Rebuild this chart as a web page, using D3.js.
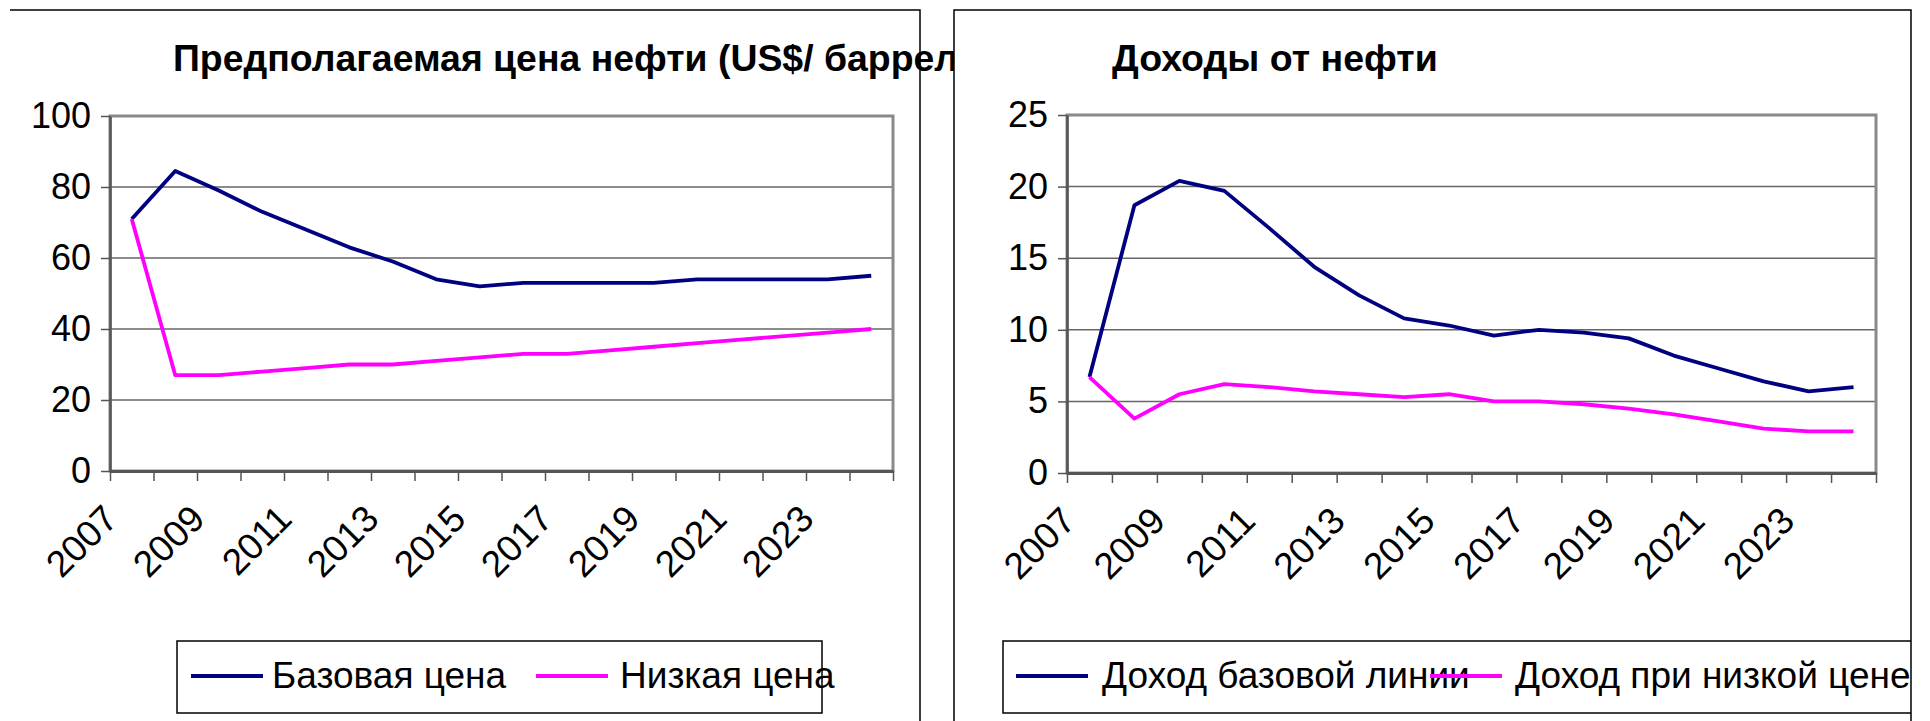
<!DOCTYPE html>
<html>
<head>
<meta charset="utf-8">
<script src="https://cdn.jsdelivr.net/npm/d3@7"></script>
<style>
  body { margin: 0; background: #fff; }
  svg { display: block; font-family: "Liberation Sans", Arial, sans-serif; }
</style>
</head>
<body>
<div id="chart"></div>
<script>
// ------------ data
var years = ["2007", "2008", "2009", "2010", "2011", "2012", "2013", "2014", "2015",
             "2016", "2017", "2018", "2019", "2020", "2021", "2022", "2023", "2024"];

var basePrice = [71, 84.5, 79, 73, 68, 63, 59, 54, 52, 53, 53, 53, 53, 54, 54, 54, 54, 55];
var lowPrice = [71, 27, 27, 28, 29, 30, 30, 31, 32, 33, 33, 34, 35, 36, 37, 38, 39, 40];

var baseIncome = [6.7, 18.7, 20.4, 19.7, 17.1, 14.4, 12.4, 10.8, 10.3, 9.6, 10.0, 9.8, 9.4, 8.2, 7.3, 6.4, 5.7, 6.0];
var lowIncome = [6.7, 3.8, 5.5, 6.2, 6.0, 5.7, 5.5, 5.3, 5.5, 5.0, 5.0, 4.8, 4.5, 4.1, 3.6, 3.1, 2.9, 2.9];

var priceTicks = [0, 20, 40, 60, 80, 100];
var incomeTicks = [0, 5, 10, 15, 20, 25];

var priceNames = ["Базовая цена", "Низкая цена"];
var incomeNames = ["Доход базовой линии", "Доход при низкой цене"];

var navy = "#000080";
var magenta = "#ff00ff";

var svgWidth = 1930;
var svgHeight = 721;

var svg = d3.select("#chart")
  .append("svg")
  .attr("width", svgWidth)
  .attr("height", svgHeight);

svg.append("rect").attr("width", svgWidth).attr("height", svgHeight).attr("fill", "#fff");

// clip for right panel (text runs past its edge)
svg.append("clipPath").attr("id", "rightClip")
  .append("rect").attr("x", 954).attr("y", 0).attr("width", 1911 - 954).attr("height", svgHeight);

// ------------ draws one chart panel
function drawChart(g, cfg) {
  var x = d3.scaleBand().domain(years).range([cfg.left, cfg.right]).padding(0);
  var xEdge = d3.scaleLinear().domain([0, years.length]).range([cfg.left, cfg.right]);
  var y = d3.scaleLinear().domain([0, cfg.ticks[cfg.ticks.length - 1]]).range([cfg.bottom, cfg.top]);

  // title
  g.append("text")
    .attr("x", cfg.titleX)
    .attr("y", 71)
    .style("font-size", cfg.titleSize)
    .style("font-weight", "bold")
    .text(cfg.title);

  // grid lines
  g.append("g").selectAll("line")
    .data(cfg.ticks.slice(1))
    .enter()
    .append("line")
    .attr("x1", cfg.left).attr("x2", cfg.right)
    .attr("y1", d => y(d)).attr("y2", d => y(d))
    .attr("stroke", "#666")
    .attr("stroke-width", 1.5);

  // plot border (gray)
  g.append("rect")
    .attr("x", cfg.left).attr("y", cfg.top)
    .attr("width", cfg.right - cfg.left).attr("height", cfg.bottom - cfg.top)
    .attr("fill", "none")
    .attr("stroke", "#8a8a8a")
    .attr("stroke-width", 3);

  // y axis
  var yAxis = g.append("g")
    .attr("transform", `translate(${cfg.left},0)`)
    .call(d3.axisLeft(y).tickValues(cfg.ticks).tickSize(9).tickPadding(10).tickSizeOuter(0));
  yAxis.select(".domain").attr("stroke", "#555").attr("stroke-width", 2.5);
  yAxis.selectAll(".tick line").attr("stroke", "#555").attr("stroke-width", 1.5);
  yAxis.selectAll(".tick text")
    .style("font-size", "36px")
    .style("font-family", "Liberation Sans, Arial, sans-serif")
    .attr("fill", "#000");

  // x axis: ticks at category edges
  var xAxis = g.append("g")
    .attr("transform", `translate(0,${cfg.bottom})`)
    .call(d3.axisBottom(xEdge).tickValues(d3.range(years.length + 1)).tickSize(10).tickFormat("").tickSizeOuter(0));
  xAxis.select(".domain").attr("stroke", "#555").attr("stroke-width", 3);
  xAxis.selectAll(".tick line").attr("stroke", "#555").attr("stroke-width", 1.5);

  // rotated year labels, every other year
  g.append("g").selectAll("text")
    .data(years.filter((d, i) => i % 2 == 0))
    .enter()
    .append("text")
    .attr("transform", d => `translate(${x(d) + x.bandwidth() / 2 - 12},${cfg.bottom + 50}) rotate(-45)`)
    .attr("text-anchor", "end")
    .style("font-size", "37px")
    .text(d => d);

  // lines
  var line = d3.line()
    .x((d, i) => x(years[i]) + x.bandwidth() / 2)
    .y(d => y(d));

  cfg.series.forEach(function(s) {
    g.append("path")
      .datum(s.values)
      .attr("d", line)
      .attr("fill", "none")
      .attr("stroke", s.color)
      .attr("stroke-width", 3.8)
      .attr("stroke-linejoin", "round");
  });

  // legend
  var lg = g.append("g");
  lg.append("rect")
    .attr("x", cfg.legend.x).attr("y", 641)
    .attr("width", cfg.legend.w).attr("height", 72)
    .attr("fill", "#fff")
    .attr("stroke", "#000")
    .attr("stroke-width", 1.5);
  cfg.series.forEach(function(s, i) {
    var it = cfg.legend.items[i];
    lg.append("line")
      .attr("x1", it.lx).attr("x2", it.lx + 72)
      .attr("y1", 676).attr("y2", 676)
      .attr("stroke", s.color)
      .attr("stroke-width", 4);
    lg.append("text")
      .attr("x", it.tx).attr("y", 688)
      .style("font-size", "37px")
      .text(s.name);
  });
}

// ------------ left panel
var leftG = svg.append("g");
leftG.append("path")
  .attr("d", "M10,10H920V721")
  .attr("fill", "none")
  .attr("stroke", "#000")
  .attr("stroke-width", 1.5);

drawChart(leftG, {
  title: "Предполагаемая цена нефти (US$/ баррель)",
  titleX: 173,
  titleSize: "37.4px",
  left: 110, right: 893, top: 116, bottom: 471,
  ticks: priceTicks,
  series: [
    {name: priceNames[0], values: basePrice, color: navy},
    {name: priceNames[1], values: lowPrice, color: magenta}
  ],
  legend: {x: 177, w: 645, items: [{lx: 191, tx: 272}, {lx: 536, tx: 620}]}
});

// ------------ right panel (white box covers overflow of the left title)
svg.append("rect")
  .attr("x", 954).attr("y", 10)
  .attr("width", 1911 - 954).attr("height", 720)
  .attr("fill", "#fff");

var rightG = svg.append("g").attr("clip-path", "url(#rightClip)");

drawChart(rightG, {
  title: "Доходы от нефти",
  titleX: 1112,
  titleSize: "37.5px",
  left: 1067, right: 1876, top: 115, bottom: 473,
  ticks: incomeTicks,
  series: [
    {name: incomeNames[0], values: baseIncome, color: navy},
    {name: incomeNames[1], values: lowIncome, color: magenta}
  ],
  legend: {x: 1003, w: 940, items: [{lx: 1016, tx: 1102}, {lx: 1430, tx: 1515}]}
});

svg.append("path")
  .attr("d", "M954,721V10H1911V721")
  .attr("fill", "none")
  .attr("stroke", "#000")
  .attr("stroke-width", 1.5);
</script>
</body>
</html>
